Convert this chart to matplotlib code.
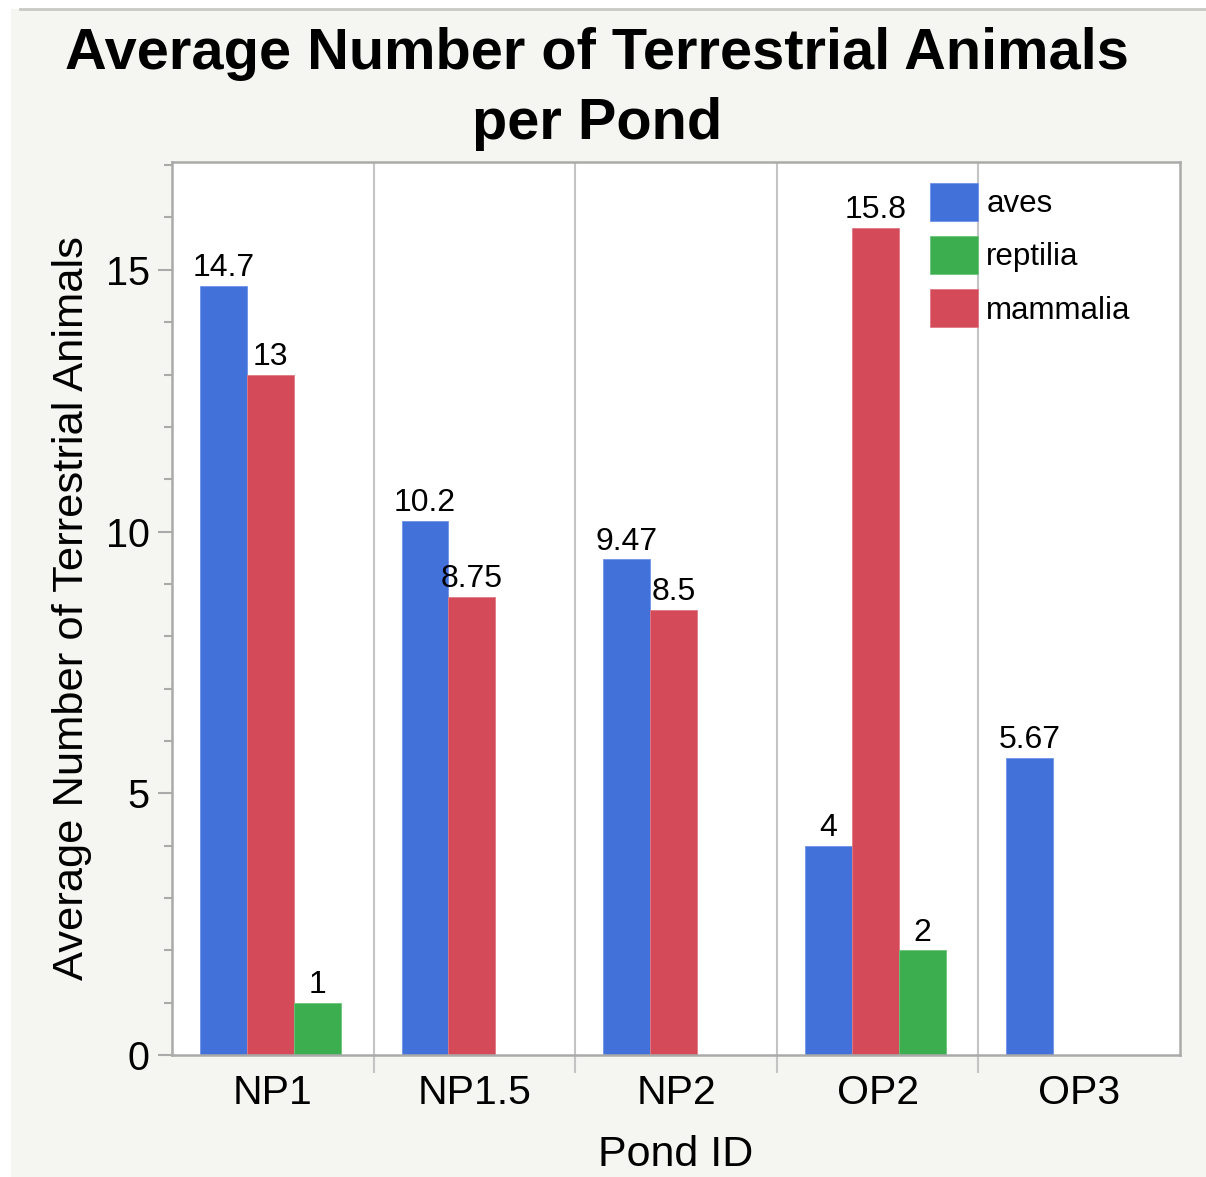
import matplotlib.pyplot as plt
from matplotlib.patches import Rectangle
from matplotlib.ticker import MultipleLocator
import numpy as np

plt.rcParams['font.family'] = ['Liberation Sans', 'DejaVu Sans']

ponds = ['NP1', 'NP1.5', 'NP2', 'OP2', 'OP3']
aves = [14.7, 10.2, 9.47, 4, 5.67]
mammalia = [13, 8.75, 8.5, 15.8, None]
reptilia = [1, None, None, 2, None]
aves_txt = ['14.7', '10.2', '9.47', '4', '5.67']
mammalia_txt = ['13', '8.75', '8.5', '15.8', '']
reptilia_txt = ['1', '', '', '2', '']

blue = '#4171d9'
red = '#d54a58'
green = '#3dae4f'
bg = '#f5f5f1'

fig = plt.figure(figsize=(12.06, 11.77), dpi=100)
fig.patch.set_facecolor('white')
# light grey panel behind everything (screenshot look)
fig.patches.append(Rectangle((11 / 1206, 0), 1, 1 - 9 / 1177, transform=fig.transFigure,
                             facecolor=bg, edgecolor='none', zorder=-10))
fig.lines.append(plt.Line2D([20 / 1206, 1], [1 - 9 / 1177] * 2, transform=fig.transFigure,
                            color='#c8c8c4', lw=2))

ax = fig.add_axes([172 / 1206, 1 - 1055 / 1177, (1180 - 172) / 1206, (1055 - 162) / 1177])
ax.set_facecolor('white')

x = np.arange(len(ponds))
xc = x - 0.012
w = 0.233


def vals(lst):
    return [np.nan if v is None else v for v in lst]


b1 = ax.bar(xc - w, vals(aves), w, color=blue, edgecolor='#6f93e6', linewidth=0.6, label='aves')
b2 = ax.bar(xc, vals(mammalia), w, color=red, edgecolor='#e07a85', linewidth=0.6, label='mammalia')
b3 = ax.bar(xc + w, vals(reptilia), w, color=green, edgecolor='#6cc57a', linewidth=0.6, label='reptilia')

ax.bar_label(b1, labels=aves_txt, padding=2, fontsize=23)
ax.bar_label(b2, labels=mammalia_txt, padding=2, fontsize=23)
ax.bar_label(b3, labels=reptilia_txt, padding=2, fontsize=23)

ax.set_xlim(-0.5, len(ponds) - 0.5)
ax.set_ylim(0, 17.06)

# group dividers
for d in x[:-1] + 0.5:
    ax.axvline(d, color='#c4c4c4', lw=1.5, zorder=0)

ax.set_xticks(x)
ax.set_xticklabels(ponds)
ax.set_xticks(x[:-1] + 0.5, minor=True)
ax.tick_params(axis='x', which='major', length=0, labelsize=29.5, pad=14)
ax.tick_params(axis='x', which='minor', length=13, width=1.5, color='#c4c4c4')
ax.yaxis.set_major_locator(MultipleLocator(5))
ax.yaxis.set_minor_locator(MultipleLocator(1))
ax.tick_params(axis='y', which='major', length=10, width=1.5, color='#aaaaaa', labelsize=28.5, pad=6)
ax.tick_params(axis='y', which='minor', length=6, width=1.5, color='#aaaaaa')

for s in ax.spines.values():
    s.set_color('#aaaaaa')
    s.set_linewidth(1.8)

ax.set_ylabel('Average Number of Terrestrial Animals', fontsize=31.3, labelpad=10)
ax.set_xlabel('Pond ID', fontsize=31, labelpad=16)

fig.text(0.495, 1 - 89 / 1177, 'Average Number of Terrestrial Animals\nper Pond',
         ha='center', va='center', fontsize=41.6, fontweight='bold', linespacing=1.38)

handles = [b1, b3, b2]
leg = ax.legend(handles, ['aves', 'reptilia', 'mammalia'], loc='upper left',
                bbox_to_anchor=((930 - 172) / 1008, 1 - (183 - 162) / 893),
                frameon=False, fontsize=22.5, borderpad=0, borderaxespad=0,
                handlelength=1.54, handleheight=1.5, handletextpad=0.26,
                labelspacing=0.48)

fig.savefig('out.png', dpi=100, facecolor=fig.get_facecolor())
